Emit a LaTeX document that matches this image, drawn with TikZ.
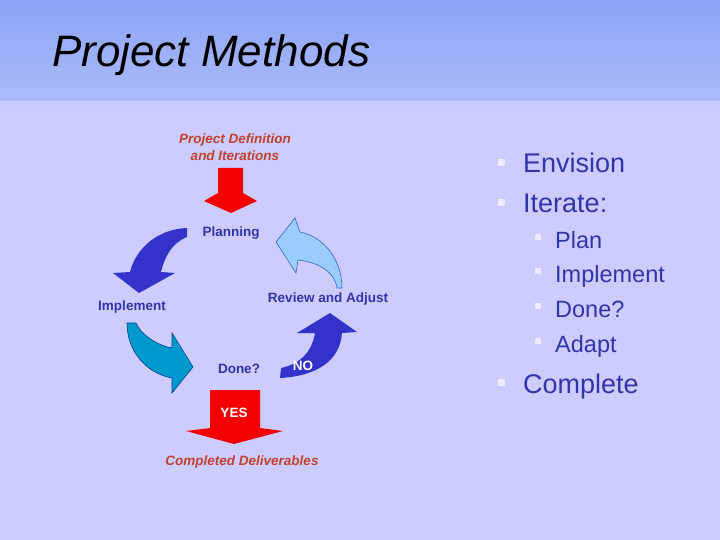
\documentclass[tikz,border=0pt]{standalone}
\usepackage{fontspec}
\setmainfont{Liberation Sans}
\definecolor{bg}{RGB}{204,204,255}
\definecolor{headtop}{RGB}{140,164,245}
\definecolor{headbot}{RGB}{172,186,250}
\definecolor{headstrip}{RGB}{198,201,252}
\definecolor{lbl}{RGB}{51,51,170}
\definecolor{rust}{RGB}{192,66,44}
\definecolor{darkarr}{RGB}{51,51,204}
\definecolor{lightarr}{RGB}{153,204,255}
\definecolor{lightedge}{RGB}{60,100,200}
\definecolor{tealarr}{RGB}{0,153,204}
\definecolor{tealedge}{RGB}{0,60,150}
\definecolor{redarr}{RGB}{245,0,0}
\definecolor{bul}{RGB}{236,236,250}
\begin{document}
\begin{tikzpicture}[x=1pt,y=-1pt,
  lbl/.style={text=lbl,font=\fontsize{13.5}{15}\selectfont\bfseries,inner sep=0pt},
  ital/.style={text=rust,font=\fontsize{13.5}{17}\selectfont\bfseries\itshape,align=center,inner sep=0pt},
  item1/.style={anchor=base west,text=lbl,font=\fontsize{27}{30}\selectfont,inner sep=0pt},
  item2/.style={anchor=base west,text=lbl,font=\fontsize{23.5}{26}\selectfont,inner sep=0pt}]
\useasboundingbox (0,0) rectangle (720,540);
\fill[bg] (0,0) rectangle (720,540);
\shade[top color=headtop,bottom color=headbot] (0,0) rectangle (720,101);
\fill[headstrip] (0,101) rectangle (720,105);
\node[anchor=base west,inner sep=0pt,font=\fontsize{44}{48}\selectfont\itshape] (title) at (52,67) {Project Methods};
% cycle arrows
\fill[redarr] (218,168) -- (243,168) -- (243,193) -- (257,201) -- (231,213) -- (204,201) -- (218,193) -- cycle;
\fill[darkarr] (187,228) .. controls (158,229) and (136,248) .. (130,272) -- (113,273) -- (139,293) -- (175,273) -- (161,272) .. controls (165,256) and (172,243) .. (187,237) -- cycle;
\filldraw[fill=lightarr,draw=lightedge,line width=0.6pt] (342,288) .. controls (342,258) and (322,236) .. (300,232) -- (295,218) -- (276,242) -- (296,273) -- (298,260) .. controls (318,262) and (335,272) .. (337,288) -- cycle;
\filldraw[fill=tealarr,draw=tealedge,line width=0.6pt] (127,323) .. controls (127,350) and (145,373) .. (172,378) -- (172,393) -- (193,367) -- (172,333) -- (172,348) .. controls (155,345) and (140,333) .. (136,323) -- cycle;
\fill[darkarr] (280,378) .. controls (318,376) and (340,360) .. (342,333) -- (357,332) -- (330,313) -- (297,333) -- (315,333) .. controls (312,352) and (300,364) .. (281,368) -- cycle;
\fill[redarr] (210,390) -- (260,390) -- (260,428) -- (283,431) -- (234,444) -- (186,431) -- (210,428) -- cycle;
% labels
\node[ital] (defn) at (235,147) {Project Definition\\and Iterations};
\node[lbl] (plan) at (231,233) {Planning};
\node[lbl] (impl) at (132,307) {Implement};
\node[lbl] (review) at (328,299) {Review and Adjust};
\node[lbl] (done) at (239,369) {Done?};
\node[lbl,text=white] (no) at (303,366) {NO};
\node[lbl,text=white] (yes) at (234,413) {YES};
\node[ital] (deliv) at (242,462) {Completed Deliverables};
% bullet list
\foreach \yb/\txt in {173/Envision,213/Iterate:,393/Complete}{
  \fill[bul] (498,\yb-14) rectangle +(7,7);
  \node[item1] (i\yb) at (523,\yb) {\txt};
}
\foreach \yb/\txt in {248/Plan,282/Implement,317/Done?,352/Adapt}{
  \fill[bul] (535,\yb-14) rectangle +(6,6);
  \node[item2] (s\yb) at (555,\yb) {\txt};
}
\end{tikzpicture}
\end{document}
